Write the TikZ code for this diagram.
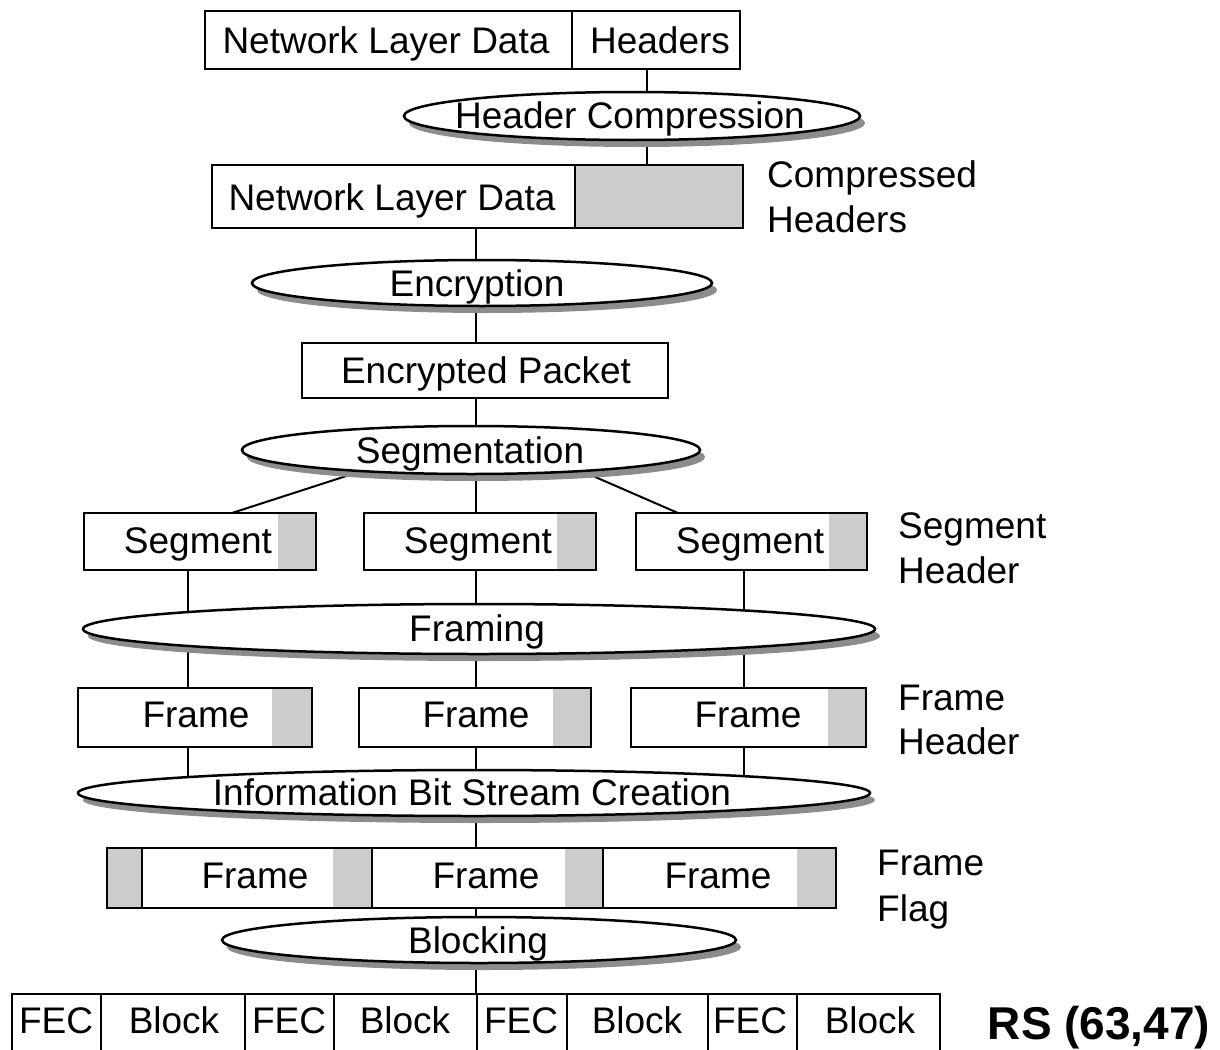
\documentclass[tikz,border=0pt]{standalone}
\usepackage{fontspec}
\setmainfont{Liberation Sans}
\usetikzlibrary{shapes.geometric,shadows}
\pgfdeclarelayer{background}
\pgfsetlayers{background,main}
\definecolor{hdrgray}{HTML}{CCCCCC}
\definecolor{shgray}{HTML}{8C8C8C}
\begin{document}
\begin{tikzpicture}[x=1pt,y=-1pt,
  sz/.style 2 args={minimum width=#1pt, minimum height=#2pt},
  box/.style={draw, line width=2pt, inner sep=0pt, outer sep=0pt},
  gfill/.style={fill=hdrgray, draw=none, inner sep=0pt, outer sep=0pt},
  proc/.style={ellipse, draw, line width=2.5pt, fill=white, inner sep=0pt, outer sep=0pt,
    drop shadow={shadow xshift=5pt, shadow yshift=-7pt, fill=shgray, opacity=1}},
  txt/.style={anchor=base, inner sep=0pt, font=\fontsize{37pt}{44pt}\selectfont},
  lbl/.style={anchor=base west, inner sep=0pt, font=\fontsize{37pt}{44pt}\selectfont},
  conn/.style={line width=2pt},
]
\useasboundingbox (0,0) rectangle (1220,1049);
\coordinate (axis) at (476,0);
\coordinate (lax) at (188,0);
\coordinate (rax) at (744,0);

% top packet
\node[box, sz={367}{58}] (nld) at (388.5,40) {};
\node[box, sz={168}{58}] (hdr) at (656,40) {};
\node[txt] (tnld) at (386,54) {Network Layer Data};
\node[txt] (thdr) at (660,54) {Headers};

% header compression
\node[proc, sz={456}{48}] (hc) at (632,116) {};
\node[txt] (thc) at (630,128) {Header Compression};

% compressed packet
\node[gfill, sz={168}{63}] (chdrf) at (659,196.5) {};
\node[box, sz={363}{63}] (cnld) at (393.5,196.5) {};
\node[box, sz={168}{63}] (chdr) at (659,196.5) {};
\node[txt] (tcnld) at (392,210) {Network Layer Data};
\node[lbl] (lcomp) at (767,187) {Compressed};
\node[lbl] (lchdr) at (767,232) {Headers};

% encryption
\node[proc, sz={460}{46}] (enc) at (482,283) {};
\node[txt] (tenc) at (477,296) {Encryption};

% encrypted packet
\node[box, sz={366}{55}] (encp) at (485,370.5) {};
\node[txt] (tencp) at (486,383) {Encrypted Packet};

% segmentation
\node[proc, sz={458}{48}] (segm) at (471,450) {};
\node[txt] (tsegm) at (470,463) {Segmentation};

% segments
\node[gfill, sz={38}{57}] (s1g) at (297,541.5) {};
\node[box, sz={232}{57}] (s1) at (200,541.5) {};
\node[txt] (ts1) at (198,553) {Segment};
\node[gfill, sz={39}{57}] (s2g) at (576.5,541.5) {};
\node[box, sz={232}{57}] (s2) at (480,541.5) {};
\node[txt] (ts2) at (478,553) {Segment};
\node[gfill, sz={38}{57}] (s3g) at (848,541.5) {};
\node[box, sz={231}{57}] (s3) at (751.5,541.5) {};
\node[txt] (ts3) at (750,553) {Segment};
\node[lbl] (lseg1) at (898,538) {Segment};
\node[lbl] (lseg2) at (898,583) {Header};

% framing
\node[proc, sz={792}{50}] (fram) at (479,629) {};
\node[txt] (tfram) at (477,641) {Framing};

% frames
\node[gfill, sz={40}{59}] (f1g) at (292,717.5) {};
\node[box, sz={234}{59}] (f1) at (195,717.5) {};
\node[txt] (tf1) at (196,727) {Frame};
\node[gfill, sz={38}{59}] (f2g) at (572,717.5) {};
\node[box, sz={232}{59}] (f2) at (475,717.5) {};
\node[txt] (tf2) at (476,727) {Frame};
\node[gfill, sz={38}{59}] (f3g) at (847,717.5) {};
\node[box, sz={235}{59}] (f3) at (748.5,717.5) {};
\node[txt] (tf3) at (748,727) {Frame};
\node[lbl] (lfr1) at (898,710) {Frame};
\node[lbl] (lfr2) at (898,754) {Header};

% information bit stream creation
\node[proc, sz={792}{46}] (info) at (474,793) {};
\node[txt] (tinfo) at (472,805) {Information Bit Stream Creation};

% flagged frames
\node[gfill, sz={35}{60}] (fl0g) at (124.5,878) {};
\node[box, sz={35}{60}] (fl0) at (124.5,878) {};
\node[gfill, sz={39}{60}] (ff1g) at (352.5,878) {};
\node[box, sz={230}{60}] (ff1) at (257,878) {};
\node[txt] (tff1) at (255,888) {Frame};
\node[gfill, sz={38}{60}] (ff2g) at (584,878) {};
\node[box, sz={231}{60}] (ff2) at (487.5,878) {};
\node[txt] (tff2) at (486,888) {Frame};
\node[gfill, sz={39}{60}] (ff3g) at (816.5,878) {};
\node[box, sz={233}{60}] (ff3) at (719.5,878) {};
\node[txt] (tff3) at (718,888) {Frame};
\node[lbl] (lfl1) at (877,875) {Frame};
\node[lbl] (lfl2) at (877,921) {Flag};

% blocking
\node[proc, sz={514}{46}] (blk) at (479,940) {};
\node[txt] (tblk) at (478,953) {Blocking};

% blocks
\begin{scope}
\clip (0,0) rectangle (1220,1049);
\node[box, sz={89}{76}] (b1) at (56.5,1032) {};
\node[box, sz={144}{76}] (b2) at (173,1032) {};
\node[box, sz={89}{76}] (b3) at (289.5,1032) {};
\node[box, sz={143}{76}] (b4) at (405.5,1032) {};
\node[box, sz={90}{76}] (b5) at (522,1032) {};
\node[box, sz={141}{76}] (b6) at (637.5,1032) {};
\node[box, sz={89}{76}] (b7) at (752.5,1032) {};
\node[box, sz={143}{76}] (b8) at (868.5,1032) {};
\end{scope}
\node[txt] (tb1) at (56,1033) {FEC};
\node[txt] (tb2) at (174,1033) {Block};
\node[txt] (tb3) at (289,1033) {FEC};
\node[txt] (tb4) at (405,1033) {Block};
\node[txt] (tb5) at (521,1033) {FEC};
\node[txt] (tb6) at (637,1033) {Block};
\node[txt] (tb7) at (750,1033) {FEC};
\node[txt] (tb8) at (870,1033) {Block};
\node[anchor=base, inner sep=0pt, font=\fontsize{46pt}{54pt}\selectfont\bfseries] (rs) at (1099,1039) {RS (63,47)};

% connectors
\coordinate (hcx) at ([xshift=-9pt]hdr.south);
\coordinate (d1) at ([xshift=-100pt,yshift=-18pt]segm.center);
\coordinate (d2) at ([xshift=99pt,yshift=-16pt]segm.center);
\begin{pgfonlayer}{background}
\draw[conn] (hcx) -- (hcx |- chdr.north);
\draw[conn] (axis |- cnld.south) -- (axis |- encp.north);
\draw[conn] (axis |- encp.south) -- (axis |- s2.north);
\draw[conn] (d1) -- ([xshift=32pt]s1.north);
\draw[conn] (d2) -- ([xshift=-73.5pt]s3.north);
\draw[conn] (lax |- s1.south) -- (lax |- f1.north);
\draw[conn] (axis |- s2.south) -- (axis |- f2.north);
\draw[conn] (rax |- s3.south) -- (rax |- f3.north);
\draw[conn] (lax |- f1.south) -- (lax |- info.center);
\draw[conn] (axis |- f2.south) -- (axis |- ff2.north);
\draw[conn] (rax |- f3.south) -- (rax |- info.center);
\draw[conn] (axis |- ff2.south) -- (axis |- b5.north);
\end{pgfonlayer}
\end{tikzpicture}
\end{document}
